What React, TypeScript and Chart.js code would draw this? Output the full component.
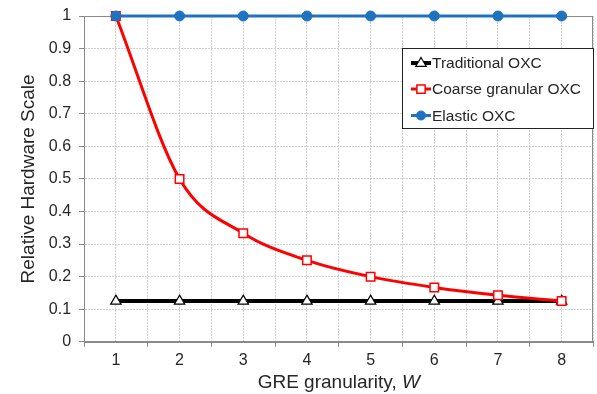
import React, { useEffect, useRef } from "react";
import { Chart, registerables } from "chart.js";

Chart.register(...registerables);

const categories = [1, 2, 3, 4, 5, 6, 7, 8];
const traditionalOXC = [0.125, 0.125, 0.125, 0.125, 0.125, 0.125, 0.125, 0.125];
const coarseGranularOXC = [1, 0.5, 0.333, 0.25, 0.2, 0.167, 0.143, 0.125];
const elasticOXC = [1, 1, 1, 1, 1, 1, 1, 1];
const seriesLabels = ["Traditional OXC", "Coarse granular OXC", "Elastic OXC"];
const yAxisTitle = "Relative Hardware Scale";
const xAxisTitleMain = "GRE granularity, ";
const xAxisTitleVar = "W";

const FONT = "'Liberation Sans', Arial, sans-serif";
const TEXT = "#262626";
const GRID = "#d2d2d2";
const AXIS = "#8a8a8a";
const BLUE = "#1f72c0";

function drawMarker(ctx: CanvasRenderingContext2D, style: string, x: number, y: number, r: number, fill: string, stroke: string, lw: number) {
  ctx.save();
  ctx.fillStyle = fill;
  ctx.strokeStyle = stroke;
  ctx.lineWidth = lw;
  ctx.beginPath();
  if (style === "triangle") {
    ctx.moveTo(x, y - r);
    ctx.lineTo(x + r * 0.95, y + r * 0.6);
    ctx.lineTo(x - r * 0.95, y + r * 0.6);
    ctx.closePath();
  } else if (style === "rect") {
    ctx.rect(x - r * 0.75, y - r * 0.75, r * 1.5, r * 1.5);
  } else {
    ctx.arc(x, y, r, 0, Math.PI * 2);
  }
  ctx.fill();
  ctx.stroke();
  ctx.restore();
}

const frameAndLegend = {
  id: "frameAndLegend",
  beforeDatasetsDraw(chart: any) {
    const { left, right, top, bottom } = chart.chartArea;
    const ctx = chart.ctx as CanvasRenderingContext2D;
    ctx.save();
    ctx.strokeStyle = AXIS;
    ctx.lineWidth = 1;
    ctx.strokeRect(Math.round(left) + 0.5, Math.round(top) + 0.5, Math.round(right - left) - 1, Math.round(bottom - top));
    ctx.restore();
  },
  afterDraw(chart: any) {
    const { right, top, left } = chart.chartArea;
    const ctx = chart.ctx as CanvasRenderingContext2D;
    // legend box
    const w = 192;
    const h = 81;
    const x1 = Math.round(right) - w;
    const y1 = Math.round(top) + 32;
    ctx.save();
    ctx.fillStyle = "#ffffff";
    ctx.fillRect(x1, y1, w, h);
    ctx.strokeStyle = "#222222";
    ctx.lineWidth = 1;
    ctx.strokeRect(x1 + 0.5, y1 + 0.5, w - 1, h - 1);
    ctx.font = `15.5px ${FONT}`;
    ctx.textBaseline = "middle";
    ctx.textAlign = "left";
    const offsets = [15, 41, 67.5];
    chart.data.datasets.forEach((ds: any, i: number) => {
      const yy = y1 + offsets[i];
      ctx.strokeStyle = ds.borderColor;
      ctx.lineWidth = ds.borderWidth;
      ctx.beginPath();
      ctx.moveTo(x1 + 9, yy);
      ctx.lineTo(x1 + 29, yy);
      ctx.stroke();
      drawMarker(ctx, ds.pointStyle, x1 + 19, yy, ds.pointRadius - 0.5, ds.pointBackgroundColor, ds.pointBorderColor, ds.pointBorderWidth);
      ctx.fillStyle = TEXT;
      ctx.fillText(ds.label, x1 + 30, yy + 1);
    });
    // x axis title with italic variable
    ctx.font = `19px ${FONT}`;
    const w1 = ctx.measureText(xAxisTitleMain).width;
    ctx.font = `italic 19px ${FONT}`;
    const w2 = ctx.measureText(xAxisTitleVar).width;
    const cx = (left + right) / 2;
    const sx = cx - (w1 + w2) / 2;
    const ty = 383;
    ctx.fillStyle = TEXT;
    ctx.textBaseline = "middle";
    ctx.font = `19px ${FONT}`;
    ctx.fillText(xAxisTitleMain, sx, ty);
    ctx.font = `italic 19px ${FONT}`;
    ctx.fillText(xAxisTitleVar, sx + w1, ty);
    ctx.restore();
  },
};

export default function App() {
  const ref = useRef<HTMLCanvasElement | null>(null);
  useEffect(() => {
    document.body.style.margin = "0";
    const canvas = ref.current;
    if (!canvas) return;
    const chart = new Chart(canvas, {
      type: "line",
      data: {
        datasets: [
          {
            label: seriesLabels[0],
            data: categories.map((c, i) => ({ x: c, y: traditionalOXC[i] })),
            borderColor: "#000000",
            borderWidth: 4,
            pointStyle: "triangle",
            pointRadius: 6,
            pointBackgroundColor: "#ffffff",
            pointBorderColor: "#000000",
            pointBorderWidth: 1.2,
            order: 3,
          },
          {
            label: seriesLabels[1],
            data: categories.map((c, i) => ({ x: c, y: coarseGranularOXC[i] })),
            borderColor: "#ff0000",
            borderWidth: 3,
            pointStyle: "rect",
            pointRadius: 6,
            pointBackgroundColor: "#ffffff",
            pointBorderColor: "#ff0000",
            pointBorderWidth: 1.5,
            cubicInterpolationMode: "monotone",
            order: 2,
          },
          {
            label: seriesLabels[2],
            data: categories.map((c, i) => ({ x: c, y: elasticOXC[i] })),
            borderColor: BLUE,
            borderWidth: 3,
            pointStyle: "circle",
            pointRadius: 5,
            pointBackgroundColor: BLUE,
            pointBorderColor: BLUE,
            pointBorderWidth: 1,
            order: 1,
          },
        ] as any,
      },
      options: {
        animation: false,
        responsive: false,
        clip: false as any,
        layout: { padding: { top: 4, right: 0, bottom: 20, left: 10 } },
        plugins: {
          legend: { display: false },
          tooltip: { enabled: false },
        },
        scales: {
          x: {
            type: "linear",
            min: 0.5,
            max: 8.5,
            ticks: {
              stepSize: 0.5,
              autoSkip: false,
              maxRotation: 0,
              padding: 4,
              color: TEXT,
              font: { family: FONT, size: 16 },
              callback: (v: any) => (Number.isInteger(v) ? String(v) : ""),
            },
            grid: {
              color: GRID,
              tickLength: 5,
              tickColor: (c: any) => (c.tick && Number.isInteger(c.tick.value) ? "rgba(0,0,0,0)" : AXIS),
            },
            border: { color: AXIS, width: 1, dash: [2, 1] },
          },
          y: {
            min: 0,
            max: 1,
            ticks: {
              stepSize: 0.1,
              padding: 8,
              color: TEXT,
              font: { family: FONT, size: 16, lineHeight: 1.0 },
              callback: (v: any) => String(Math.round(Number(v) * 10) / 10),
            },
            grid: { color: GRID, tickLength: 5, tickColor: AXIS },
            border: { color: AXIS, width: 1, dash: [2, 1] },
            title: {
              display: true,
              text: yAxisTitle,
              color: TEXT,
              font: { family: FONT, size: 19 },
              padding: { top: 7, bottom: 1 },
            },
          },
        },
      } as any,
      plugins: [frameAndLegend],
    });
    return () => chart.destroy();
  }, []);
  return (
    <div style={{ width: 597, height: 394, overflow: "hidden" }}>
      <canvas ref={ref} width={601} height={394} style={{ display: "block" }} />
    </div>
  );
}
